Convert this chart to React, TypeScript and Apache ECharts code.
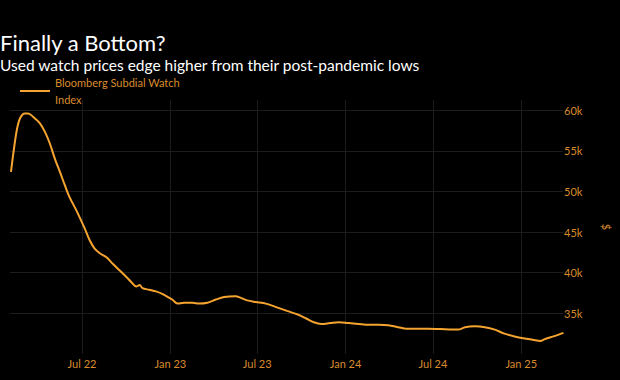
import React, { useEffect, useRef } from "react";
import * as echarts from "echarts";

const dates = [
  "2022-02-03", "2022-02-08", "2022-02-15", "2022-02-22", "2022-03-04", "2022-03-11", "2022-03-21",
  "2022-04-04", "2022-04-15", "2022-04-25", "2022-05-05", "2022-05-16", "2022-05-26", "2022-06-05",
  "2022-06-19", "2022-07-07", "2022-07-17", "2022-07-27", "2022-08-07", "2022-08-21", "2022-09-03",
  "2022-09-17", "2022-10-01", "2022-10-11", "2022-10-22", "2022-10-29", "2022-11-04", "2022-11-18",
  "2022-12-02", "2022-12-15", "2022-12-30", "2023-01-05", "2023-01-16", "2023-01-30", "2023-02-16",
  "2023-03-02", "2023-03-19", "2023-04-06", "2023-04-23", "2023-05-17", "2023-05-28", "2023-06-10",
  "2023-06-28", "2023-07-19", "2023-08-08", "2023-09-01", "2023-09-26", "2023-10-10", "2023-10-27",
  "2023-11-12", "2023-11-30", "2023-12-18", "2024-01-07", "2024-01-28", "2024-02-18", "2024-03-10",
  "2024-03-30", "2024-04-20", "2024-05-07", "2024-06-01", "2024-06-21", "2024-07-26", "2024-08-23",
  "2024-09-06", "2024-09-26", "2024-10-17", "2024-11-07", "2024-11-27", "2024-12-18", "2025-01-08",
  "2025-01-25", "2025-02-10", "2025-02-18", "2025-03-11", "2025-03-30",
];

const values = [
  52400, 54700, 57500, 59000, 59600, 59600, 59200,
  58400, 57300, 55900, 54100, 52400, 50800, 49300,
  47700, 45400, 44000, 43000, 42400, 41900, 41100,
  40300, 39500, 38900, 38300, 38500, 38100, 37900,
  37700, 37400, 36900, 36700, 36200, 36300, 36300,
  36200, 36300, 36700, 37000, 37100, 36900, 36600,
  36400, 36200, 35800, 35300, 34800, 34400, 33900,
  33700, 33800, 33900, 33800, 33700, 33600, 33600,
  33550, 33300, 33100, 33100, 33100, 33050, 33000,
  33300, 33400, 33300, 33000, 32500, 32150, 31900,
  31750, 31600, 31800, 32200, 32600,
];

const xTickDates = ["2022-07-01", "2023-01-01", "2023-07-01", "2024-01-01", "2024-07-01", "2025-01-01"];
const yTicks = [35000, 40000, 45000, 50000, 55000, 60000];
const monthNames = ["Jan", "Feb", "Mar", "Apr", "May", "Jun", "Jul", "Aug", "Sep", "Oct", "Nov", "Dec"];

const titleText = "Finally a Bottom?";
const subtitleText = "Used watch prices edge higher from their post-pandemic lows";
const seriesName = "Bloomberg Subdial Watch Index";

const ts = (d: string) => new Date(d + "T00:00:00Z").getTime();

export default function App() {
  const ref = useRef<HTMLDivElement>(null);

  useEffect(() => {
    if (!ref.current) return;
    const chart = echarts.init(ref.current, null, { renderer: "svg" });
    const orange = "#f5a42f";
    const labelColor = "#d98b2c";
    const font = "Lato";
    const tickValues = xTickDates.map(ts);
    chart.setOption({
      animation: false,
      backgroundColor: "#000000",
      title: [
        {
          text: titleText,
          left: 0,
          top: 31,
          padding: 0,
          textStyle: { color: "#ffffff", fontSize: 22, fontWeight: "normal", fontFamily: font },
        },
        {
          text: subtitleText,
          left: 0,
          top: 57,
          padding: 0,
          textStyle: { color: "#ffffff", fontSize: 15.5, fontWeight: "normal", fontFamily: font },
        },
      ],
      legend: {
        left: 20,
        top: 74,
        padding: 0,
        itemWidth: 30,
        itemHeight: 2,
        itemGap: 6,
        icon: "rect",
        formatter: () => "Bloomberg Subdial Watch\nIndex",
        textStyle: { color: labelColor, fontSize: 11, fontFamily: font, lineHeight: 17 },
        data: [{ name: seriesName, itemStyle: { color: orange } }],
      },
      grid: { left: 10, right: 54, top: 100, bottom: 26, containLabel: false },
      xAxis: {
        type: "value",
        min: ts("2022-02-01"),
        max: ts("2025-03-29"),
        axisLine: { show: false },
        axisTick: { show: false, customValues: tickValues },
        axisLabel: {
          customValues: tickValues,
          color: labelColor,
          fontSize: 11,
          fontFamily: font,
          margin: 4,
          formatter: (v: number) => {
            const d = new Date(v);
            return monthNames[d.getUTCMonth()] + " " + String(d.getUTCFullYear()).slice(2);
          },
        },
        splitLine: { show: true, lineStyle: { color: "#1c1c1c", width: 1 } },
      },
      yAxis: {
        type: "value",
        position: "right",
        min: 30000,
        max: 61250,
        interval: 5000,
        name: "$",
        nameLocation: "middle",
        nameGap: 38,
        nameRotate: -90,
        nameTextStyle: { color: labelColor, fontSize: 11, fontFamily: font },
        axisLine: { show: false },
        axisTick: { show: false },
        axisLabel: {
          color: labelColor,
          fontSize: 11,
          fontFamily: font,
          margin: 1,
          formatter: (v: number) => (yTicks.indexOf(v) >= 0 ? v / 1000 + "k" : ""),
        },
        splitLine: {
          show: true,
          showMinLine: false,
          showMaxLine: false,
          lineStyle: { color: "#1c1c1c", width: 1 },
        },
      },
      series: [
        {
          name: seriesName,
          type: "line",
          data: dates.map((d, i) => [ts(d), values[i]]),
          smooth: 0.3,
          showSymbol: false,
          lineStyle: { color: orange, width: 2 },
          itemStyle: { color: orange },
        },
      ],
    });
    return () => chart.dispose();
  }, []);

  return <div ref={ref} style={{ width: 620, height: 380, position: "absolute", left: 0, top: 0 }} />;
}
